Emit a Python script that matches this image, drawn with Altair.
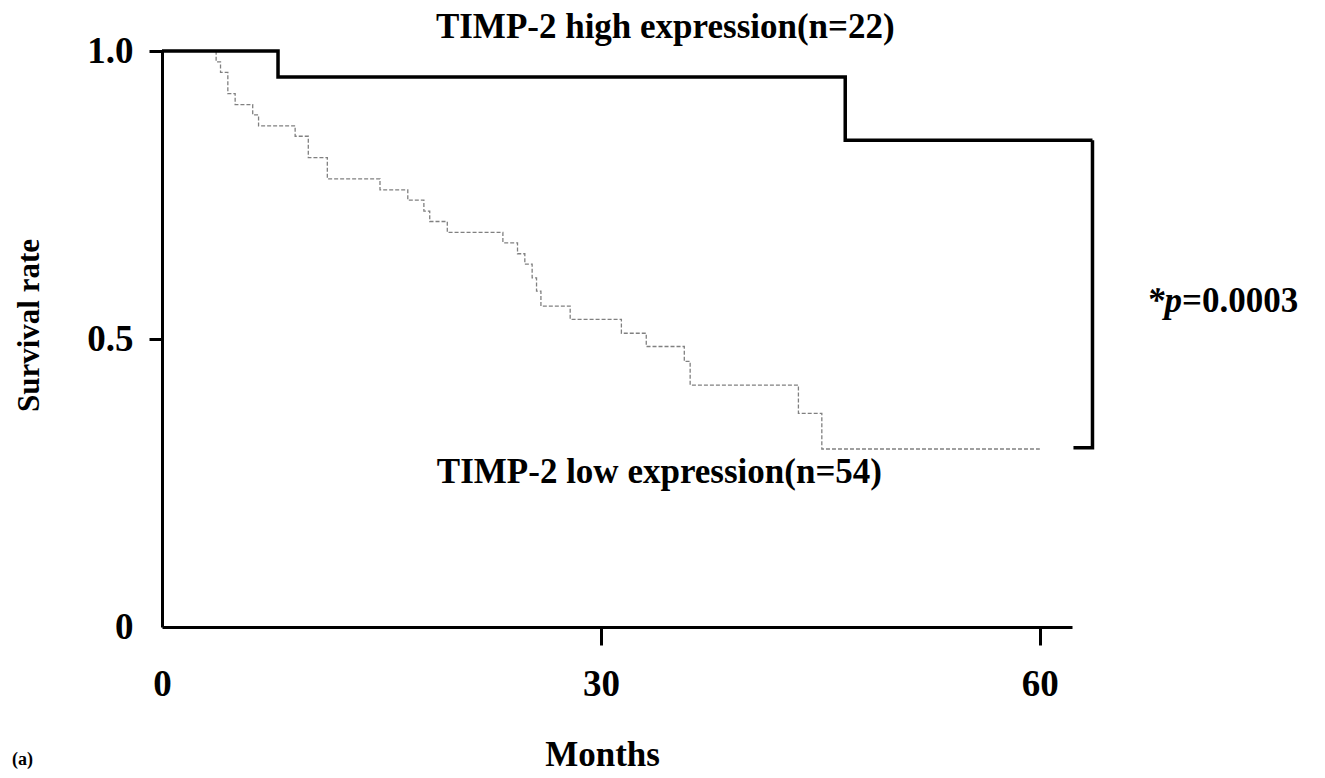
import altair as alt
import pandas as pd

# ---- data ----
# TIMP-2 high expression (n=22)
high_months = [0, 7.93, 46.7, 63.6]
high_surv = [1.0, 0.955, 0.845, 0.845]

# TIMP-2 low expression (n=54)
low_months = [0, 3.7, 4.0, 4.5, 5.0, 6.2, 6.6, 9.1, 10.0, 11.3,
              14.9, 16.8, 17.9, 18.3, 19.5, 23.3, 24.3, 24.8, 25.3, 25.6,
              25.9, 27.9, 31.4, 33.1, 35.7, 36.1, 43.5, 45.1, 60.0]
low_surv = [1.0, 0.981, 0.963, 0.926, 0.907, 0.889, 0.870, 0.852, 0.815, 0.778,
            0.759, 0.741, 0.722, 0.704, 0.685, 0.667, 0.648, 0.630, 0.606, 0.583,
            0.557, 0.534, 0.510, 0.487, 0.461, 0.420, 0.371, 0.309, 0.309]

# p-value bracket
bracket_months = [63.6, 63.6, 62.3]
bracket_surv = [0.845, 0.311, 0.311]

x_ticks = [0, 30, 60]
y_ticks = [0, 0.5, 1.0]

FONT = "Liberation Serif"

high_df = pd.DataFrame({"month": high_months, "surv": high_surv})
low_df = pd.DataFrame({"month": low_months, "surv": low_surv})
br_df = pd.DataFrame({"month": bracket_months, "surv": bracket_surv,
                      "order": list(range(len(bracket_months)))})

xscale = alt.Scale(domain=[0, 62.2], nice=False, zero=False)
yscale = alt.Scale(domain=[0, 1], nice=False)

x_axis = alt.Axis(values=x_ticks, format="d", grid=False,
                  domainColor="black", domainWidth=3,
                  tickColor="black", tickWidth=3, tickSize=18,
                  tickOpacity={"condition": {"test": "datum.value == 0", "value": 0}, "value": 1},
                  labelFont=FONT, labelFontSize=37, labelFontWeight="bold",
                  labelColor="black", labelBaseline="alphabetic", labelPadding=50,
                  labelFlush=False,
                  title="Months", titleFont=FONT, titleFontSize=35,
                  titleFontWeight="bold", titleColor="black",
                  titleX=440, titleY=138, titleBaseline="alphabetic",
                  titleAlign="center")

y_axis = alt.Axis(values=y_ticks, grid=False,
                  labelExpr="datum.value == 0 ? '0' : format(datum.value, '.1f')",
                  domainColor="black", domainWidth=3,
                  tickColor="black", tickWidth=3, tickSize=13,
                  tickOpacity={"condition": {"test": "datum.value == 0", "value": 0}, "value": 1},
                  labelFont=FONT, labelFontSize=37, labelFontWeight="bold",
                  labelColor="black", labelBaseline="middle", labelPadding=16,
                  title="Survival rate", titleFont=FONT, titleFontSize=31,
                  titleFontWeight="bold", titleColor="black",
                  titleX=-124, titleY=274, titleAngle=270,
                  titleBaseline="alphabetic", titleAlign="center")

low = alt.Chart(low_df).mark_line(
    interpolate="step-after", color="#808080", strokeWidth=1.3, strokeDash=[4, 2]
).encode(
    x=alt.X("month:Q", scale=xscale, axis=x_axis),
    y=alt.Y("surv:Q", scale=yscale, axis=y_axis),
)

high = alt.Chart(high_df).mark_line(
    interpolate="step-after", color="black", strokeWidth=3.5
).encode(x="month:Q", y="surv:Q")

bracket = alt.Chart(br_df).mark_line(color="black", strokeWidth=3.5).encode(
    x="month:Q", y="surv:Q", order="order:Q")

# annotations (in data coordinates)
ann_center = pd.DataFrame({
    "month": [34.4, 34.0],
    "surv": [1.022, 0.25],
    "label": ["TIMP-2 high expression(n=22)", "TIMP-2 low expression(n=54)"],
})
txt_center = alt.Chart(ann_center).mark_text(
    font=FONT, fontSize=35, fontWeight="bold", color="black",
    align="center", baseline="alphabetic"
).encode(x="month:Q", y="surv:Q", text="label:N")

p_star = alt.Chart(pd.DataFrame({"month": [69.72], "surv": [0.547], "label": ["*p"]})).mark_text(
    font=FONT, fontSize=35, fontWeight="bold", fontStyle="italic", color="black",
    align="right", baseline="alphabetic"
).encode(x="month:Q", y="surv:Q", text="label:N")

p_val = alt.Chart(pd.DataFrame({"month": [69.72], "surv": [0.547], "label": ["=0.0003"]})).mark_text(
    font=FONT, fontSize=35, fontWeight="bold", color="black",
    align="left", baseline="alphabetic"
).encode(x="month:Q", y="surv:Q", text="label:N")

panel = alt.Chart(pd.DataFrame({"month": [-10.25], "surv": [-0.24], "label": ["(a)"]})).mark_text(
    font=FONT, fontSize=18, fontWeight="bold", color="black",
    align="left", baseline="alphabetic"
).encode(x="month:Q", y="surv:Q", text="label:N")

chart = alt.layer(low, high, bracket, txt_center, p_star, p_val, panel).properties(
    width=910, height=576,
    autosize=alt.AutoSizeParams(type="none"),
    padding={"left": 154, "top": 43, "right": 245, "bottom": 150},
    background="white",
).configure_view(stroke=None)

chart.save("out.html", embed_options={"renderer": "svg", "actions": False})
